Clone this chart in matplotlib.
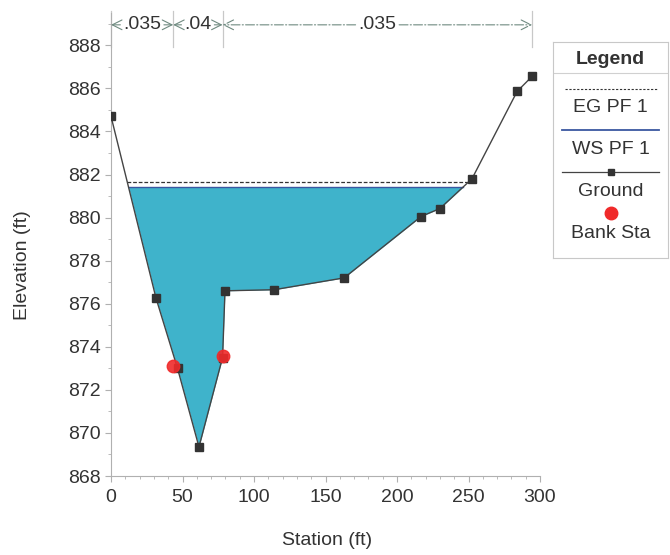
import numpy as np
import matplotlib
matplotlib.use("Agg")
import matplotlib.pyplot as plt
from matplotlib.ticker import MultipleLocator

plt.rcParams["font.family"] = ["Liberation Sans", "DejaVu Sans"]

# cross-section ground points
station = [0, 31.5, 46.5, 61.5, 78.0, 79.7, 114.0, 163.0, 216.8, 230.0, 252.4, 284.0, 294.5]
ground = [884.7, 876.25, 873.0, 869.35, 873.5, 876.6, 876.65, 877.2, 880.05, 880.42, 881.8, 885.86, 886.56]

bank_sta = [43.5, 78.0]
bank_elev = [873.1, 873.55]

ws_elev = 881.4   # WS PF 1
eg_elev = 881.65  # EG PF 1

# Manning's n regions
n_edges = [0, 43.5, 78.0, 294.5]
n_labels = [".035", ".04", ".035"]

C_WATER = "#3fb3cb"
C_WS = "#3a57a0"
C_GROUND = "#444444"
C_BANK = "#f02a2a"
C_TEXT = "#333333"
C_AXIS = "#b0b0b0"
FS = 14

fig = plt.figure(figsize=(6.7, 5.55), dpi=100)
ax = fig.add_axes([0.1657, 0.1423, 0.806 - 0.1657, 0.9766 - 0.1423])

x = np.array(station)
g = np.array(ground)


def crossings(level):
    # first and last points where the ground meets a water level
    xs = []
    for i in range(len(x) - 1):
        a, b = g[i] - level, g[i + 1] - level
        if a * b < 0:
            xs.append(x[i] + (x[i + 1] - x[i]) * a / (a - b))
    return xs[0], xs[-1]


xf = np.linspace(x[0], x[-1], 3000)
gf = np.interp(xf, x, g)
ax.fill_between(xf, gf, ws_elev, where=gf < ws_elev, color=C_WATER, lw=0, zorder=1)

wl, wr = crossings(ws_elev)
ax.plot([wl, wr], [ws_elev, ws_elev], color=C_WS, lw=1.0, zorder=2)
el, er = crossings(eg_elev)
ax.plot([el, er], [eg_elev, eg_elev], color="#333333", lw=0.9, ls=(0, (3, 1.5)), zorder=2)

ax.plot(station, ground, color=C_GROUND, lw=1.0, marker="s", ms=6,
        mfc="#333333", mec="#333333", zorder=3)
ax.plot(bank_sta, bank_elev, ls="none", marker="o", ms=9, mfc=C_BANK, mec=C_BANK,
        alpha=0.9, zorder=4)

# n-value strip along the top
y_n = 888.95
for e in n_edges:
    ax.plot([e, e], [887.9, 889.6], color="#c8c8c8", lw=0.9, clip_on=False, zorder=2)
for (a, b), lab in zip(zip(n_edges[:-1], n_edges[1:]), n_labels):
    mid = (a + b) / 2
    for end, col in ((a, C_TEXT), (b, "none")):
        ax.annotate(lab, xy=(end, y_n), xytext=(mid, y_n), ha="center", va="center",
                    fontsize=FS, color=col, annotation_clip=False,
                    arrowprops=dict(arrowstyle="->,head_length=0.5,head_width=0.25",
                                    color="#6f8a80", lw=0.8, shrinkA=0, shrinkB=0,
                                    linestyle=(0, (8, 2, 1, 2)) if b - a > 100 else "-"))

ax.set_xlim(0, 300)
ax.set_ylim(868, 889.5)
ax.xaxis.set_major_locator(MultipleLocator(50))
ax.xaxis.set_minor_locator(MultipleLocator(10))
ax.yaxis.set_major_locator(MultipleLocator(2))
ax.yaxis.set_minor_locator(MultipleLocator(1))
for s in ("top", "right"):
    ax.spines[s].set_visible(False)
for s in ("left", "bottom"):
    ax.spines[s].set_color(C_AXIS)
    ax.spines[s].set_linewidth(0.8)
ax.tick_params(which="major", length=4, color=C_AXIS, labelsize=FS, labelcolor=C_TEXT)
ax.tick_params(axis="x", which="major", pad=5)
ax.tick_params(which="minor", length=2.5, color=C_AXIS)
ax.set_xlabel("Station (ft)", fontsize=FS, color=C_TEXT)
ax.set_ylabel("Elevation (ft)", fontsize=FS, color=C_TEXT)
ax.xaxis.set_label_coords(0.503, -0.121)
ax.yaxis.set_label_coords(-0.186, 0.456)

# legend panel
lg = fig.add_axes([553 / 670, 1 - 258 / 555, 115 / 670, 216 / 555])
lg.set_xlim(0, 1)
lg.set_ylim(258, 42)
lg.set_xticks([])
lg.set_yticks([])
for s in lg.spines.values():
    s.set_color("#c8c8c8")
    s.set_linewidth(0.8)
lg.text(0.5, 60, "Legend", ha="center", va="center", fontsize=FS, fontweight="bold", color=C_TEXT)
lg.plot([0, 1], [73, 73], color="#d0d0d0", lw=0.8)
lg.plot([0.1, 0.9], [89, 89], color="#333333", lw=0.8, ls=(0, (2, 1.5)))
lg.text(0.5, 107, "EG PF 1", ha="center", va="center", fontsize=FS, color=C_TEXT)
lg.plot([0.08, 0.92], [130, 130], color=C_WS, lw=1.3)
lg.text(0.5, 150, "WS PF 1", ha="center", va="center", fontsize=FS, color=C_TEXT)
lg.plot([0.08, 0.92], [172, 172], color=C_GROUND, lw=0.9)
lg.plot([0.5], [172], marker="s", ms=5, color="#333333")
lg.text(0.5, 191, "Ground", ha="center", va="center", fontsize=FS, color=C_TEXT)
lg.plot([0.5], [213], marker="o", ms=9, color=C_BANK)
lg.text(0.5, 233, "Bank Sta", ha="center", va="center", fontsize=FS, color=C_TEXT)

fig.savefig("out.png", dpi=100)
